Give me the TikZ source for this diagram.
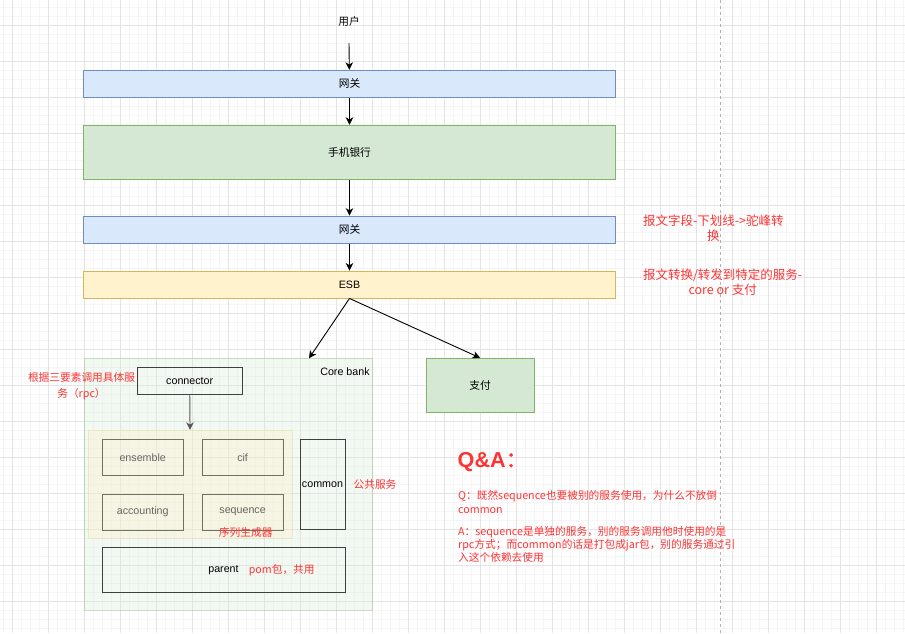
\documentclass[tikz,border=0pt]{standalone}
\usepackage{fontspec}
\setmainfont{Noto Sans CJK SC}[AutoFakeBold=2]
\newfontfamily\lat{Liberation Sans}
\usetikzlibrary{arrows.meta,positioning}
\definecolor{gwfill}{HTML}{DAE8FC}
\definecolor{gwline}{HTML}{6C8EBF}
\definecolor{gfill}{HTML}{D5E8D4}
\definecolor{gline}{HTML}{82B366}
\definecolor{yfill}{HTML}{FFF2CC}
\definecolor{yline}{HTML}{D6B656}
\definecolor{note}{HTML}{FF3333}
\definecolor{gridmajor}{HTML}{E4E4E4}
\definecolor{gridminor}{HTML}{F5F5F5}
\definecolor{modline}{HTML}{707066}
\tikzset{
  lay/.style={draw, line width=0.9pt, inner sep=0pt, minimum width=532pt, minimum height=27pt},
  gw/.style={lay, fill=gwfill, draw=gwline},
  app/.style={lay, fill=gfill, draw=gline},
  bus/.style={lay, fill=yfill, draw=yline},
  module/.style={draw=modline, line width=0.9pt, inner sep=0pt, text=black!60, minimum width=81pt, minimum height=36pt},
  plain/.style={draw=black!75, line width=0.9pt, inner sep=0pt},
  lab/.style={inner sep=0pt, font=\fontsize{10.7}{13}\selectfont},
  remark/.style={inner sep=0pt, text=note, align=center},
}
\begin{document}
\begin{tikzpicture}[x=1pt, y=-1pt, >={Stealth[length=7.5pt,width=7.5pt,inset=2.2pt]}, font=\fontsize{10.7}{13}\selectfont]
\useasboundingbox (0,0) rectangle (905,633);
\fill[white] (0,0) rectangle (905,633);
% background grid
\foreach \x in {3,12,...,903} \draw[gridminor, line width=0.6pt] (\x,0) -- (\x,633);
\foreach \y in {7,16,...,628} \draw[gridminor, line width=0.6pt] (0,\y) -- (905,\y);
\foreach \x in {12,48,...,876} \draw[gridmajor, line width=0.8pt] (\x,0) -- (\x,633);
\foreach \y in {25,61,...,601} \draw[gridmajor, line width=0.8pt] (0,\y) -- (905,\y);
\draw[black!30, dashed, line width=0.8pt] (720.5,0) -- (720.5,633);

% main chain
\node[lab] (user) at (349,21) {用户};
\coordinate (userout) at (349,43);
\node[gw] (gw1) at (349.5,83.8) {网关};
\node[app, minimum height=54pt, below=27pt of gw1] (mobile) {手机银行};
\node[gw, below=36pt of mobile] (gw2) {网关};
\node[bus, below=27pt of gw2] (esb) {\lat ESB};
\draw[->, line width=0.9pt] (userout) -- (gw1);
\draw[->, line width=0.9pt] (gw1) -- (mobile);
\draw[->, line width=0.9pt] (mobile) -- (gw2);
\draw[->, line width=0.9pt] (gw2) -- (esb);

% core bank
\node[draw=gline, draw opacity=0.35, fill=gfill, fill opacity=0.3, minimum width=288pt, minimum height=251.7pt] (core) at (228.3,484.2) {};
\node[lab] (corelab) at (345,372) {\lat Core bank};
\coordinate (corein) at (309,358.3);
\node[app, minimum width=108pt, minimum height=54pt] (pay) at (480,385.3) {支付};
\draw[->, line width=0.9pt] (esb.south) -- (corein);
\draw[->, line width=0.9pt] (esb.south) -- (pay.north);

\node[plain, minimum width=104.7pt, minimum height=27pt] (conn) at (189.7,380.8) {\lat connector};
\node[draw=yline, draw opacity=0.2, fill=yfill, fill opacity=0.35, minimum width=203.4pt, minimum height=108.3pt] (svc) at (190,484.2) {};
\draw[->, black!65, line width=0.9pt] (conn) -- (svc.north);
\node[module] (ens) at (142.7,457.3) {\lat ensemble};
\node[module, right=18pt of ens] (cif) {\lat cif};
\node[module, below=18pt of ens] (acct) {\lat accounting};
\node[module, right=18pt of acct] (seq) {\lat sequence};
\node[plain, minimum width=45pt, minimum height=90pt] (common) at (322.5,484.3) {\lat common};
\node[plain, minimum width=243pt, minimum height=45pt] (parent) at (223.5,569.8) {\lat parent};

% remarks
\node[remark, font=\fontsize{10.7}{15.5}\selectfont] (rpcnote) at (81.5,386.2) {根据三要素调用具体服\\务（rpc）};
\node[remark, font=\fontsize{10.7}{13}\selectfont] (seqnote) at (245.7,532.3) {序列生成器};
\node[remark, font=\fontsize{10.7}{13}\selectfont] (comnote) at (375,484.3) {公共服务};
\node[remark, font=\fontsize{10.7}{13}\selectfont] (pomnote) at (281.7,570) {pom包，共用};
\node[remark, font=\fontsize{12.5}{14.5}\selectfont] (fieldnote) at (713.3,228) {报文字段-下划线->驼峰转\\换};
\node[remark, font=\fontsize{12.5}{14.5}\selectfont] (routenote) at (722.7,282.2) {报文转换/转发到特定的服务-\\core or 支付};

% Q&A
\node[remark, anchor=west, font=\fontsize{21.6}{24}\selectfont] (qa) at (457.5,461.7) {{\lat\bfseries Q\&A}{\bfseries ：}};
\node[remark, anchor=west, align=left, font=\fontsize{10.7}{14.3}\selectfont] (qtext) at (458,502.2) {Q：既然sequence也要被别的服务使用，为什么不放倒\\common};
\node[remark, anchor=west, align=left, font=\fontsize{10.7}{13.4}\selectfont] (atext) at (458,544.4) {A：sequence是单独的服务，别的服务调用他时使用的是\\rpc方式；而common的话是打包成jar包，别的服务通过引\\入这个依赖去使用};
\end{tikzpicture}
\end{document}
